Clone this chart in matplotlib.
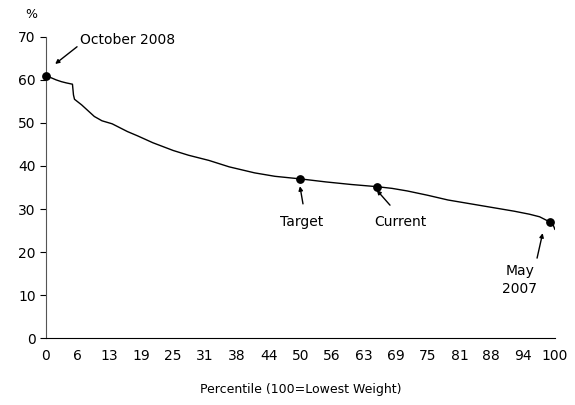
import matplotlib
matplotlib.use("Agg")
import matplotlib.pyplot as plt
import numpy as np

# percentile curve
pct = [0, 1, 2, 3, 4, 5.2, 5.4, 5.6, 7, 9.5, 11, 13, 16, 18, 21, 25, 28, 32, 36,
       41, 45, 50, 55, 60, 65, 68, 71, 75, 79, 83, 88, 92, 95, 97, 99, 99.6, 100]
weight = [61.0, 60.5, 60.0, 59.6, 59.3, 59.0, 56.5, 55.5, 54.2, 51.5, 50.5, 49.8,
          48.0, 47.0, 45.4, 43.6, 42.5, 41.3, 39.8, 38.4, 37.6, 37.0, 36.3, 35.7,
          35.2, 34.8, 34.2, 33.2, 32.1, 31.3, 30.3, 29.5, 28.8, 28.2, 27.0, 26.5, 25.3]

# marked points
mark_x = [0, 50, 65, 99]
mark_y = [61.0, 37.0, 35.2, 27.0]
mark_lbl = ["October 2008", "Target", "Current", "May\n2007"]
lbl_pos = [(6.7, 69.3), (50.3, 27.0), (69.7, 27.0), (93.1, 13.5)]
arrow_tail = [(6.1, 67.7), (50.5, 31.2), (67.6, 30.9), (96.5, 18.6)]
arrow_head = [(1.8, 63.7), (49.9, 35.3), (65.0, 34.4), (97.6, 24.4)]

xtick_lbl = ["0", "6", "13", "19", "25", "31", "38", "44", "50", "56", "63",
             "69", "75", "81", "88", "94", "100"]

fig = plt.figure(figsize=(5.75, 4.05), dpi=100)
ax = fig.add_axes([0.08, 0.165, 0.885, 0.744])

ax.plot(pct, weight, color="black", lw=1)
ax.scatter(mark_x, mark_y, s=28, color="black", zorder=3, clip_on=False)

for t, (tx, ty), tail, head in zip(mark_lbl, lbl_pos, arrow_tail, arrow_head):
    ha = "left" if t.startswith("October") else "center"
    ax.text(tx, ty, t, ha=ha, va="center", fontsize=10, linespacing=1.3)
    ax.annotate("", xy=head, xytext=tail,
                arrowprops=dict(arrowstyle="-|>", color="black", lw=1,
                                mutation_scale=6, shrinkA=0, shrinkB=0))

ax.set_xlim(0, 100)
ax.set_ylim(0, 70)
ax.set_xticks(np.linspace(0, 100, len(xtick_lbl)))
ax.set_xticklabels(xtick_lbl)
ax.set_yticks(range(0, 71, 10))
ax.tick_params(axis="x", length=0, pad=8, labelsize=10)
ax.tick_params(axis="y", length=4, direction="out", labelsize=10)
for s in ["top", "right"]:
    ax.spines[s].set_visible(False)
ax.spines["left"].set_color("#555555")
ax.set_xlabel("Percentile (100=Lowest Weight)", fontsize=9, labelpad=14)
fig.text(0.055, 0.963, "%", fontsize=9, ha="center", va="center")

fig.savefig("out.png", dpi=100)
